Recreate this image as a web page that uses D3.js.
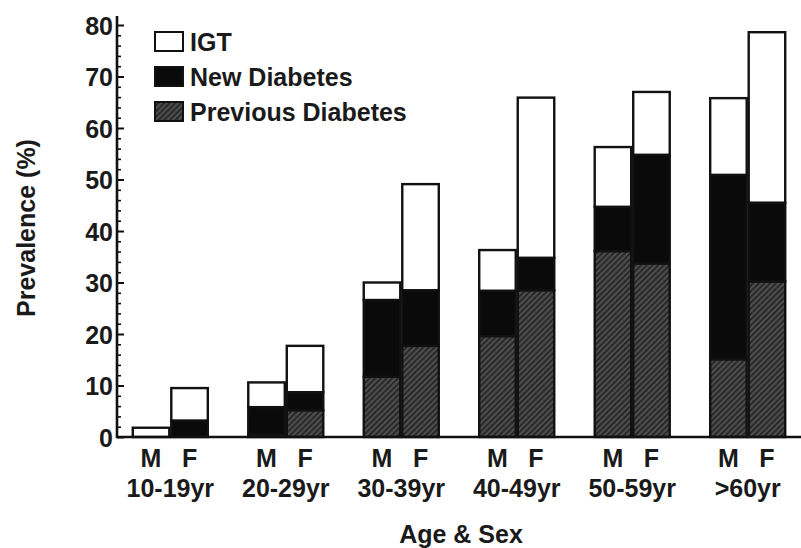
<!DOCTYPE html>
<html>
<head>
<meta charset="utf-8">
<script src="https://cdn.jsdelivr.net/npm/d3@7"></script>
<style>
  body { margin: 0; background: #fff; }
  svg { display: block; }
  text { font-family: "Liberation Sans", Arial, sans-serif; fill: #1a1a1a; font-weight: bold; }
</style>
</head>
<body>
<svg id="chart" width="801" height="548"></svg>
<script>
// ---- data ----
const ageGroups = ["10-19yr", "20-29yr", "30-39yr", "40-49yr", "50-59yr", ">60yr"];
const sexes = ["M", "F"];
const seriesNames = ["Previous Diabetes", "New Diabetes", "IGT"];
// segment values (%), stacked bottom to top: previous, new, IGT
const malePrevious = [0, 0.5, 11.7, 19.6, 36.1, 15.1];
const maleNew      = [0, 5.3, 14.9, 8.8, 8.6, 35.8];
const maleIGT      = [1.8, 4.8, 3.4, 7.9, 11.6, 14.9];
const femalePrevious = [0, 5.2, 17.7, 28.5, 33.7, 30.2];
const femaleNew      = [3.2, 3.5, 10.8, 6.3, 21.1, 15.3];
const femaleIGT      = [6.3, 9.0, 20.6, 31.1, 12.2, 33.1];
const yTicks = [0, 10, 20, 30, 40, 50, 60, 70, 80];

// ---- build table ----
const rows = [];
ageGroups.forEach((g, i) => {
  rows.push({group: g, sex: "M", "Previous Diabetes": malePrevious[i], "New Diabetes": maleNew[i], "IGT": maleIGT[i]});
  rows.push({group: g, sex: "F", "Previous Diabetes": femalePrevious[i], "New Diabetes": femaleNew[i], "IGT": femaleIGT[i]});
});
const stacked = d3.stack().keys(seriesNames)(rows);

const svg = d3.select("#chart");
const axisX0 = 117, axisY0 = 437;

const x0 = d3.scaleBand().domain(ageGroups).range([axisX0, 801]).paddingInner(0.333).paddingOuter(0.128);
const x1 = d3.scaleBand().domain(sexes).range([0, x0.bandwidth()]).padding(0);
const y = d3.scaleLinear().domain([0, 80]).range([axisY0, 25]);

// pattern for previous diabetes
const defs = svg.append("defs");
const pat = defs.append("pattern").attr("id", "hatch").attr("patternUnits", "userSpaceOnUse")
  .attr("width", 4).attr("height", 4).attr("patternTransform", "rotate(45)");
pat.append("rect").attr("width", 4).attr("height", 4).attr("fill", "#4e4e4e");
pat.append("rect").attr("width", 1.8).attr("height", 4).attr("fill", "#242424");

const fills = {"Previous Diabetes": "url(#hatch)", "New Diabetes": "#0a0a0a", "IGT": "#fff"};

// bars
const layer = svg.append("g");
stacked.forEach(s => {
  layer.selectAll(null).data(s.filter(d => d[1] - d[0] > 0)).join("rect")
    .attr("x", d => x0(d.data.group) + x1(d.data.sex) + 1)
    .attr("width", x1.bandwidth() - 2)
    .attr("y", d => y(d[1]))
    .attr("height", d => y(d[0]) - y(d[1]))
    .attr("fill", fills[s.key])
    .attr("stroke", "#111")
    .attr("stroke-width", 2.4);
});

// y axis (major)
const yAxis = d3.axisLeft(y).tickValues(yTicks).tickSize(-7).tickPadding(4).tickFormat(d3.format("d"));
const gy = svg.append("g").attr("transform", `translate(${axisX0},0)`).call(yAxis);
gy.select(".domain").remove();
gy.selectAll(".tick line").attr("stroke", "#111").attr("stroke-width", 2);
gy.selectAll(".tick text").style("font-size", "25px").attr("dy", "0.36em").attr("fill", "#1a1a1a")
  .style("font-family", "\"Liberation Sans\", Arial, sans-serif").style("font-weight", "bold");
// minor ticks
const minorVals = d3.range(0, 81, 2).filter(v => v % 10 !== 0);
const gyMinor = svg.append("g").attr("transform", `translate(${axisX0},0)`)
  .call(d3.axisLeft(y).tickValues(minorVals).tickSize(-4).tickFormat(""));
gyMinor.select(".domain").remove();
gyMinor.selectAll(".tick line").attr("stroke", "#111").attr("stroke-width", 1.6);

// axis lines
svg.append("line").attr("x1", axisX0).attr("x2", axisX0).attr("y1", 16).attr("y2", axisY0 + 1)
  .attr("stroke", "#111").attr("stroke-width", 2.6);
svg.append("line").attr("x1", axisX0 - 1).attr("x2", 801).attr("y1", axisY0).attr("y2", axisY0)
  .attr("stroke", "#111").attr("stroke-width", 2.6);

// x labels: sex
rows.forEach(r => {
  svg.append("text")
    .attr("x", x0(r.group) + x1(r.sex) + x1.bandwidth() / 2)
    .attr("y", 467)
    .attr("text-anchor", "middle")
    .style("font-size", "25px")
    .text(r.sex);
});
// x labels: age group
svg.append("g").selectAll("text").data(ageGroups).join("text")
  .attr("x", d => x0(d) + x0.bandwidth() / 2)
  .attr("y", 497)
  .attr("text-anchor", "middle")
  .style("font-size", "25px")
  .text(d => d);

// axis titles
svg.append("text").attr("x", 461).attr("y", 543).attr("text-anchor", "middle")
  .style("font-size", "25px").text("Age & Sex");
svg.append("text").attr("transform", "translate(35,228) rotate(-90)").attr("text-anchor", "middle")
  .style("font-size", "25px").text("Prevalence (%)");

// legend
const legendItems = ["IGT", "New Diabetes", "Previous Diabetes"];
const lg = svg.append("g");
legendItems.forEach((k, i) => {
  const yy = 32 + i * 35;
  lg.append("rect").attr("x", 155).attr("y", yy).attr("width", 28).attr("height", 19)
    .attr("fill", fills[k]).attr("stroke", "#111").attr("stroke-width", 2);
  lg.append("text").attr("x", 190).attr("y", yy + 19).style("font-size", "25px").text(k);
});
</script>
</body>
</html>
